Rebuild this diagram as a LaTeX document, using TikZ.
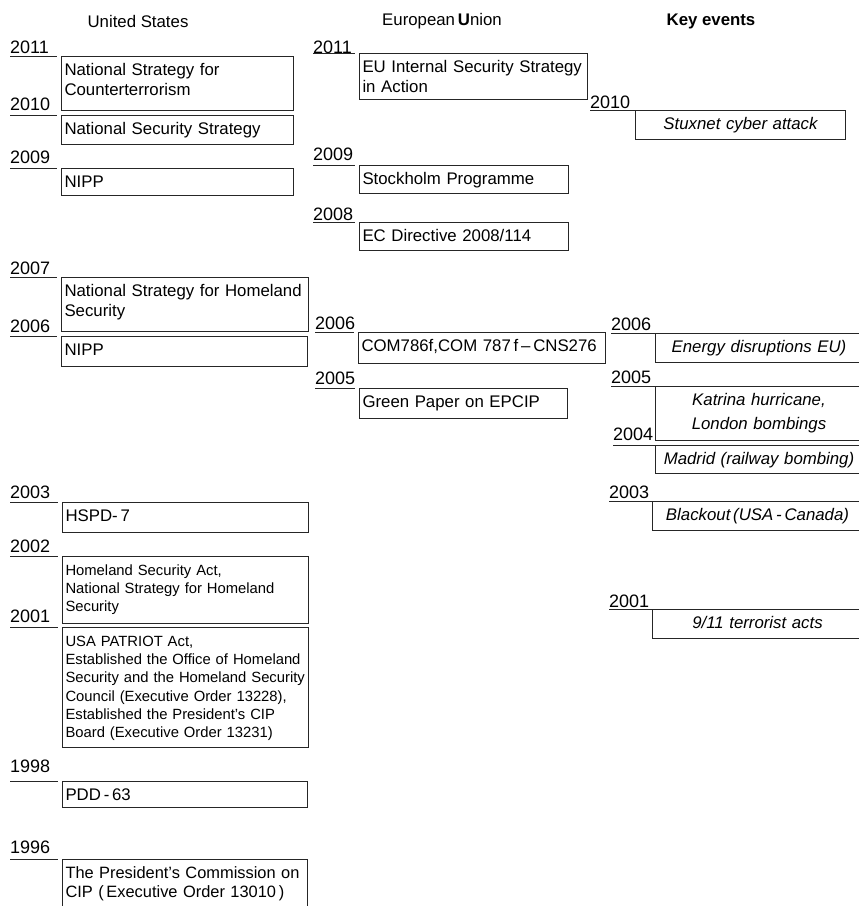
\documentclass[tikz,border=0pt]{standalone}
\usepackage{fontspec}
\setmainfont{Liberation Sans}
\usetikzlibrary{positioning}
\newcommand{\boxfont}{\fontsize{16.8}{19.5}\selectfont}
\newcommand{\smallboxfont}{\fontsize{14.8}{18.2}\selectfont}
\newcommand{\yearfont}{\fontsize{18}{20}\selectfont}

\begin{document}
\begin{tikzpicture}[
    x=1pt, y=-1pt,
    heading/.style={inner sep=0pt, font=\boxfont},
    yearlabel/.style={anchor=base west, inner sep=0pt, font=\yearfont},
    usbox/.style 2 args={rectangle, draw=black!85, line width=1pt, anchor=north west,
        inner xsep=3pt, inner ysep=0pt, text height=19pt, text width=#1, text depth=#2,
        align=left, font=\boxfont},
    keybox/.style 2 args={usbox={#1}{#2}, align=center, font=\boxfont\itshape},
    yearline/.style={draw=black!85, line width=1pt},
]
    \useasboundingbox (0,0) rectangle (859,906);
    \clip (0,0) rectangle (859,906);

    % Headings
    \node[heading] (usHead) at (138,21) {United States};
    \node[heading] (euHead) at (442,21) {European\,\textbf{U}nion};
    \node[heading, font=\boxfont\bfseries] (keyHead) at (711,21) {Key events};

    % United States
    \node[usbox={226pt}{35pt}] (us2011) at (61,56) {National Strategy for\\Counterterrorism};
    \node[usbox={226pt}{10pt}] (us2010) at (61,115) {National Security Strategy};
    \node[usbox={226pt}{8pt}] (us2009) at (61,168) {NIPP};
    \node[usbox={241pt}{35pt}] (us2007) at (61,277) {National Strategy for Homeland\\Security};
    \node[usbox={240pt}{11pt}] (us2006) at (61,336) {NIPP};
    \node[usbox={240pt}{11pt}] (us2003) at (62,502) {HSPD-\,7};
    \node[usbox={240pt}{48pt}, font=\smallboxfont] (us2002) at (62,556) {Homeland Security Act,\\National Strategy for Homeland\\Security};
    \node[usbox={240pt}{101pt}, font=\smallboxfont] (us2001) at (62,627) {USA PATRIOT Act,\\Established the Office of Homeland\\Security and the Homeland Security\\Council (Executive Order 13228),\\Established the President’s CIP\\Board (Executive Order 13231)};
    \node[usbox={239pt}{7pt}] (us1998) at (62,781) {PDD\,-\,63};
    \node[usbox={239pt}{61pt}, font=\fontsize{16.4}{19}\selectfont] (us1996) at (62,859) {\mbox{The President’s Commission on}\\CIP (\,Executive Order 13010\,)};

    \node[yearlabel] (y2011us) at (10,53) {2011};
    \node[yearlabel] (y2010us) at (10,110) {2010};
    \node[yearlabel] (y2009us) at (10,163) {2009};
    \node[yearlabel] (y2007us) at (10,274) {2007};
    \node[yearlabel] (y2006us) at (10,332) {2006};
    \node[yearlabel] (y2003us) at (10,498) {2003};
    \node[yearlabel] (y2002us) at (10,552) {2002};
    \node[yearlabel] (y2001us) at (10,622) {2001};
    \node[yearlabel] (y1998us) at (10,772) {1998};
    \node[yearlabel] (y1996us) at (10,853) {1996};

    % European Union
    \node[usbox={222pt}{27pt}] (eu2011) at (359,53) {EU Internal Security Strategy\\in Action};
    \node[usbox={203pt}{9pt}] (eu2009) at (359,165) {Stockholm Programme};
    \node[usbox={203pt}{9pt}] (eu2008) at (359,222) {EC Directive 2008/114};
    \node[usbox={241pt}{12pt}] (eu2006) at (358,332) {COM786f,COM 787\,f\,–\,CNS276};
    \node[usbox={202pt}{11pt}] (eu2005) at (359,388) {Green Paper on EPCIP};

    \node[yearlabel] (y2011eu) at (313,53) {2011};
    \node[yearlabel] (y2009eu) at (313,160) {2009};
    \node[yearlabel] (y2008eu) at (313,220) {2008};
    \node[yearlabel] (y2006eu) at (315,329) {2006};
    \node[yearlabel] (y2005eu) at (315,384) {2005};

    % Key events
    \node[keybox={204pt}{10pt}] (ke2010) at (635,110) {Stuxnet cyber attack};
    \node[keybox={201pt}{10pt}] (ke2006) at (655,333) {Energy disruptions EU)};
    \node[keybox={201pt}{35pt}] (ke2005) at (655,386) {Katrina hurricane,\\[4pt]London bombings};
    \node[keybox={201pt}{9pt}] (ke2004) at (655,445) {Madrid (railway bombing)};
    \node[keybox={204pt}{10pt}] (ke2003) at (652,501) {Blackout\,(USA\,-\,Canada)};
    \node[keybox={204pt}{10pt}] (ke2001) at (652,609) {9/11 terrorist acts};

    \node[yearlabel] (y2010ke) at (590,108) {2010};
    \node[yearlabel] (y2006ke) at (611,330) {2006};
    \node[yearlabel] (y2005ke) at (611,383) {2005};
    \node[yearlabel] (y2004ke) at (613,440) {2004};
    \node[yearlabel] (y2003ke) at (609,498) {2003};
    \node[yearlabel] (y2001ke) at (609,607) {2001};

    % Year lines
    \draw[yearline] (y2011us.west |- us2011.north) -- ([xshift=-4pt]us2011.north west);
    \draw[yearline] (y2010us.west |- us2010.north) -- ([xshift=-4pt]us2010.north west);
    \draw[yearline] (y2009us.west |- us2009.north) -- ([xshift=-4pt]us2009.north west);
    \draw[yearline] (y2007us.west |- us2007.north) -- ([xshift=-4pt]us2007.north west);
    \draw[yearline] (y2006us.west |- us2006.north) -- ([xshift=-4pt]us2006.north west);
    \draw[yearline] (y2003us.west |- us2003.north) -- ([xshift=-4pt]us2003.north west);
    \draw[yearline] (y2002us.west |- us2002.north) -- ([xshift=-4pt]us2002.north west);
    \draw[yearline] (y2001us.west |- us2001.north) -- ([xshift=-4pt]us2001.north west);
    \draw[yearline] (y1998us.west |- us1998.north) -- ([xshift=-4pt]us1998.north west);
    \draw[yearline] (y1996us.west |- us1996.north) -- ([xshift=-4pt]us1996.north west);
    \draw[yearline] (y2011eu.west |- eu2011.north) -- ([xshift=-4pt]eu2011.north west);
    \draw[yearline] (y2009eu.west |- eu2009.north) -- ([xshift=-4pt]eu2009.north west);
    \draw[yearline] (y2008eu.west |- eu2008.north) -- ([xshift=-4pt]eu2008.north west);
    \draw[yearline] (y2006eu.west |- eu2006.north) -- ([xshift=-4pt]eu2006.north west);
    \draw[yearline] (y2005eu.west |- eu2005.north) -- ([xshift=-4pt]eu2005.north west);
    \draw[yearline] (y2010ke.west |- ke2010.north) -- (ke2010.north west);
    \draw[yearline] (y2006ke.west |- ke2006.north) -- (ke2006.north west);
    \draw[yearline] (y2005ke.west |- ke2005.north) -- (ke2005.north west);
    \draw[yearline] (y2004ke.west |- ke2004.north) -- (ke2004.north west);
    \draw[yearline] (y2003ke.west |- ke2003.north) -- (ke2003.north west);
    \draw[yearline] (y2001ke.west |- ke2001.north) -- (ke2001.north west);
\end{tikzpicture}
\end{document}
